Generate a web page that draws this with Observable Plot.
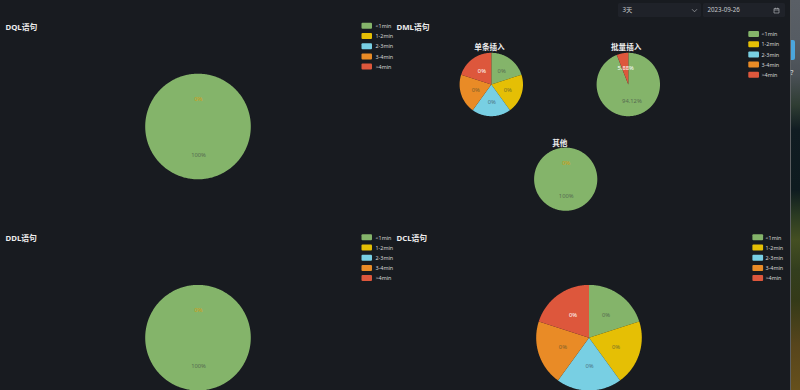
<!DOCTYPE html>
<html lang="zh">
<head>
<meta charset="utf-8">
<script src="https://cdn.jsdelivr.net/npm/d3@7"></script>
<script src="https://cdn.jsdelivr.net/npm/@observablehq/plot@0.6"></script>
<style>
  html, body { margin: 0; padding: 0; width: 800px; height: 390px; overflow: hidden; background: #181b20; }
  body { position: relative; font-family: "Noto Sans", "Noto Sans CJK SC", sans-serif; }
  #wall { position: absolute; left: 791px; top: 0; width: 9px; height: 390px;
    background: linear-gradient(to bottom, #5a5f66 0, #565c63 40px, #4a5056 75px, #2f3d33 105px, #101c22 130px, #0e1b20 190px, #2a3a22 215px, #444f22 240px, #333e1e 270px, #343a18 300px, #57451c 345px, #66501c 390px); }
  #sep { position: absolute; left: 789.5px; top: 0; width: 1.5px; height: 390px; background: #5c5f62; }
  #tab { position: absolute; left: 791px; top: 40px; width: 4px; height: 20px; background: #4ba6dc; border-radius: 0 2px 2px 0; }
  #mark { position: absolute; left: 790.5px; top: 69px; color: #e4e4e4; font-size: 6.5px; line-height: 8px; }
  #chart { position: absolute; left: 0; top: 0; }
  #chart svg { background: transparent !important; display: block; }
  .ctl { position: absolute; top: 3px; height: 14px; background: #1f2229; color: #c8cacd; font-size: 6.2px; line-height: 14px; border-radius: 1.5px; box-sizing: border-box; padding-left: 5px; }
  .ctl svg { position: absolute; top: 3.5px; }
</style>
</head>
<body>
<div id="wall"></div><div id="tab"></div><div id="sep"></div><div id="mark">?</div>
<div id="chart"></div>
<div class="ctl" style="left:617.5px;width:83.5px">3天
  <svg style="left:73px" width="7" height="7" viewBox="0 0 7 7"><path d="M1 2.2 L3.5 4.8 L6 2.2" fill="none" stroke="#a8abaf" stroke-width=".7"/></svg>
</div>
<div class="ctl" style="left:702.5px;width:82.5px">2023-09-26
  <svg style="left:70px" width="7" height="7" viewBox="0 0 7 7"><path d="M1 1.6 H6 V6 H1 Z M1 3 H6 M2.4 .7 V2 M4.6 .7 V2" fill="none" stroke="#a8abaf" stroke-width=".7"/></svg>
</div>
<script>
// Data
const categories = ["<1min", "1-2min", "2-3min", "3-4min", ">4min"];
const sliceColors = ["#84b46a", "#e5bf05", "#78cfe3", "#e98b26", "#dd573c"];
const labelInks = ["#566b50", "#76702a", "#4c7382", "#7c5f2b", "#ffffff"];
const stackedZeroInk = "#d69c10";

const dqlValues    = [100, 0, 0, 0, 0];
const singleValues = [0, 0, 0, 0, 0];
const batchValues  = [94.12, 0, 0, 0, 5.88];
const otherValues  = [100, 0, 0, 0, 0];
const ddlValues    = [100, 0, 0, 0, 0];
const dclValues    = [0, 0, 0, 0, 0];

const percentLabels = {
  dql: ["100%", "0%", "0%", "0%", "0%"],
  single: ["0%", "0%", "0%", "0%", "0%"],
  batch: ["94.12%", "0%", "0%", "0%", "5.88%"],
  other: ["100%", "0%", "0%", "0%", "0%"],
  ddl: ["100%", "0%", "0%", "0%", "0%"],
  dcl: ["0%", "0%", "0%", "0%", "0%"]
};

// Layout of the panels (page pixels)
const pies = [
  {id: "dql", values: dqlValues, cx: 198, cy: 126.5, r: 52.8},
  {id: "single", values: singleValues, cx: 491.3, cy: 84.5, r: 31.7},
  {id: "batch", values: batchValues, cx: 628.3, cy: 84.5, r: 31.7},
  {id: "other", values: otherValues, cx: 565.7, cy: 179.2, r: 31.6},
  {id: "ddl", values: ddlValues, cx: 198, cy: 337.7, r: 52.8},
  {id: "dcl", values: dclValues, cx: 589, cy: 337.7, r: 52.8}
];
const panelTitles = [
  {text: "DQL语句", x: 5, y: 26.5},
  {text: "DML语句", x: 396, y: 26.5},
  {text: "DDL语句", x: 5, y: 237.6},
  {text: "DCL语句", x: 396, y: 237.6}
];
const pieTitles = [
  {text: "单条插入", x: 489, y: 47.5},
  {text: "批量插入", x: 625.7, y: 47.5},
  {text: "其他", x: 559.3, y: 142.7}
];
const legends = [
  {x: 361.5, y: 25.8, w: 10.5, tx: 375},
  {x: 748.3, y: 34, w: 10.7, tx: 761},
  {x: 361.5, y: 237.3, w: 10.5, tx: 375},
  {x: 752.4, y: 237.3, w: 10.7, tx: 765}
];
const legendStep = 10.2;

// Build slices and their labels through d3.pie
const wedgePoints = [];
const sliceLabels = [];
pies.forEach(p => {
  const total = d3.sum(p.values);
  const arcs = d3.pie().sort(null)(total ? p.values : p.values.map(() => 1));
  let zeroLabelDrawn = false;
  arcs.forEach((a, i) => {
    const span = a.endAngle - a.startAngle;
    const mid = (a.startAngle + a.endAngle) / 2;
    const text = percentLabels[p.id][i];
    if (span > 0) {
      const steps = Math.max(2, Math.ceil(span / (Math.PI / 180)));
      d3.range(steps + 1).forEach(k => {
        const t = a.startAngle + span * k / steps;
        wedgePoints.push({
          key: p.id + i, category: categories[i],
          x1: p.cx, y1: p.cy,
          x2: p.cx + p.r * Math.sin(t), y2: p.cy - p.r * Math.cos(t)
        });
      });
      sliceLabels.push({text, ink: labelInks[i],
        x: p.cx + 0.53 * p.r * Math.sin(mid), y: p.cy - 0.53 * p.r * Math.cos(mid)});
    } else if (!zeroLabelDrawn && p.id !== "batch") {
      zeroLabelDrawn = true;
      sliceLabels.push({text, ink: stackedZeroInk,
        x: p.cx + 0.53 * p.r * Math.sin(mid), y: p.cy - 0.53 * p.r * Math.cos(mid)});
    }
  });
});

const legendRows = legends.flatMap(l => categories.map((c, i) => ({
  category: c, x: l.x, x2: l.x + l.w, tx: l.tx, y: l.y + i * legendStep
})));

const plot = Plot.plot({
  width: 800, height: 390, margin: 0,
  style: {background: "transparent", fontFamily: '"Noto Sans", "Noto Sans CJK SC", sans-serif'},
  x: {domain: [0, 800], range: [0, 800], axis: null},
  y: {domain: [0, 390], range: [0, 390], axis: null},
  color: {type: "ordinal", domain: categories, range: sliceColors},
  marks: [
    Plot.area(wedgePoints, {x1: "x1", y1: "y1", x2: "x2", y2: "y2", z: "key", fill: "category", curve: "linear"}),
    Plot.text(sliceLabels, {x: "x", y: "y", text: "text", fill: d => d.ink, fontSize: 5.8, textAnchor: "middle", lineAnchor: "middle"}),
    Plot.text(panelTitles, {x: "x", y: "y", text: "text", fill: "#ececec", fontSize: 7.8, fontWeight: 700, textAnchor: "start", lineAnchor: "middle"}),
    Plot.text(pieTitles, {x: "x", y: "y", text: "text", fill: "#ececec", fontSize: 7.6, fontWeight: 700, textAnchor: "middle", lineAnchor: "middle"}),
    Plot.rect(legendRows, {x1: "x", x2: "x2", y1: d => d.y - 3, y2: d => d.y + 3, fill: "category", rx: 1}),
    Plot.text(legendRows, {x: "tx", y: "y", text: "category", fill: "#d6d6d6", fontSize: 5.4, textAnchor: "start", lineAnchor: "middle"})
  ]
});
document.getElementById("chart").appendChild(plot);
</script>
</body>
</html>
